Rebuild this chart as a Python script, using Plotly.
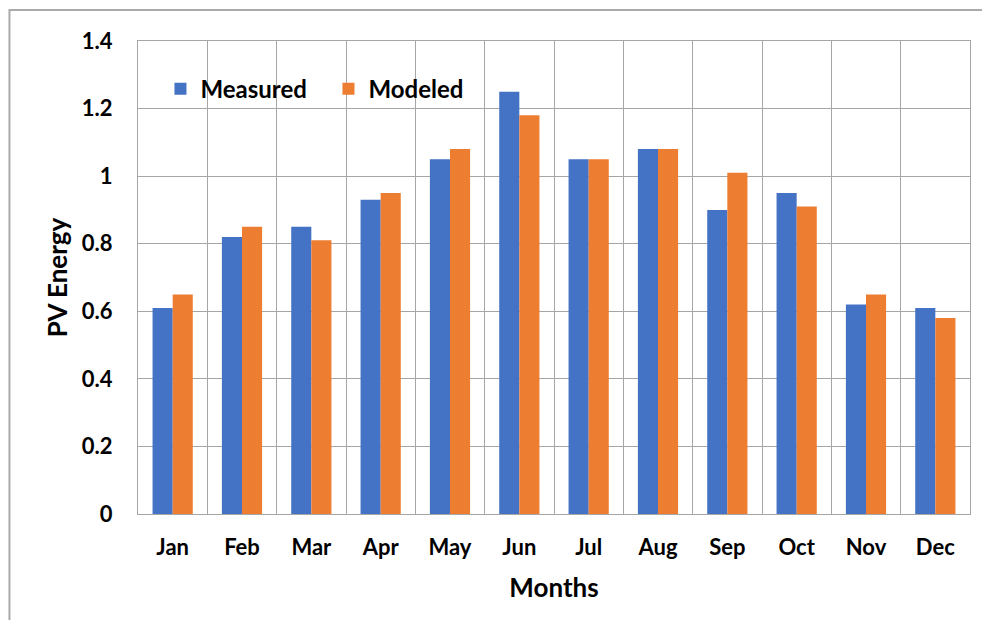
import plotly.graph_objects as go

months = ["Jan", "Feb", "Mar", "Apr", "May", "Jun", "Jul", "Aug", "Sep", "Oct", "Nov", "Dec"]
measured = [0.61, 0.82, 0.85, 0.93, 1.05, 1.25, 1.05, 1.08, 0.90, 0.95, 0.62, 0.61]
modeled = [0.65, 0.85, 0.81, 0.95, 1.08, 1.18, 1.05, 1.08, 1.01, 0.91, 0.65, 0.58]
y_ticks = [0, 0.2, 0.4, 0.6, 0.8, 1, 1.2, 1.4]

fig = go.Figure()

fig.add_trace(go.Bar(x=months, y=measured, name="Measured",
                     marker=dict(color="#4472C4", line=dict(width=0))))
fig.add_trace(go.Bar(x=months, y=modeled, name="Modeled",
                     marker=dict(color="#ED7D31", line=dict(width=0))))

# outer chart border (left/top visible, rest runs off the page)
fig.add_shape(type="rect", xref="paper", yref="paper",
              x0=-0.1545, x1=1.04, y0=-0.24, y1=1.0655,
              line=dict(color="#aaaaaa", width=2), layer="below")

fig.update_layout(
    width=982, height=612,
    margin=dict(l=130, r=20, t=33, b=106),
    paper_bgcolor="white", plot_bgcolor="white",
    font=dict(family="Lato", size=22, color="black", weight="bold"),
    barmode="group", bargap=0.42, bargroupgap=0,
    legend=dict(orientation="h", x=0.027, y=0.898, xanchor="left", yanchor="middle",
                font=dict(size=24, weight="bold"), itemwidth=30,
                entrywidth=123, entrywidthmode="pixels",
                bgcolor="rgba(0,0,0,0)", traceorder="normal"),
    xaxis=dict(
        title=dict(text="Months", standoff=19),
        tickson="boundaries", ticks="", showgrid=True,
        gridcolor="#a6a6a6", gridwidth=1,
        showline=True, linecolor="#a6a6a6", mirror=True,
        range=[-0.5, 11.5], ticklabelstandoff=14,
    ),
    yaxis=dict(
        title=dict(text="PV Energy", standoff=6),
        range=[0, 1.4], tickvals=y_ticks,
        ticktext=["0", "0.2", "0.4", "0.6", "0.8", "1", "1.2", "1.4"],
        showgrid=True, gridcolor="#a6a6a6", gridwidth=1,
        showline=True, linecolor="#a6a6a6", mirror=True,
        ticks="", ticklabelstandoff=20, zeroline=False,
    ),
)

fig.write_html("out.html")
